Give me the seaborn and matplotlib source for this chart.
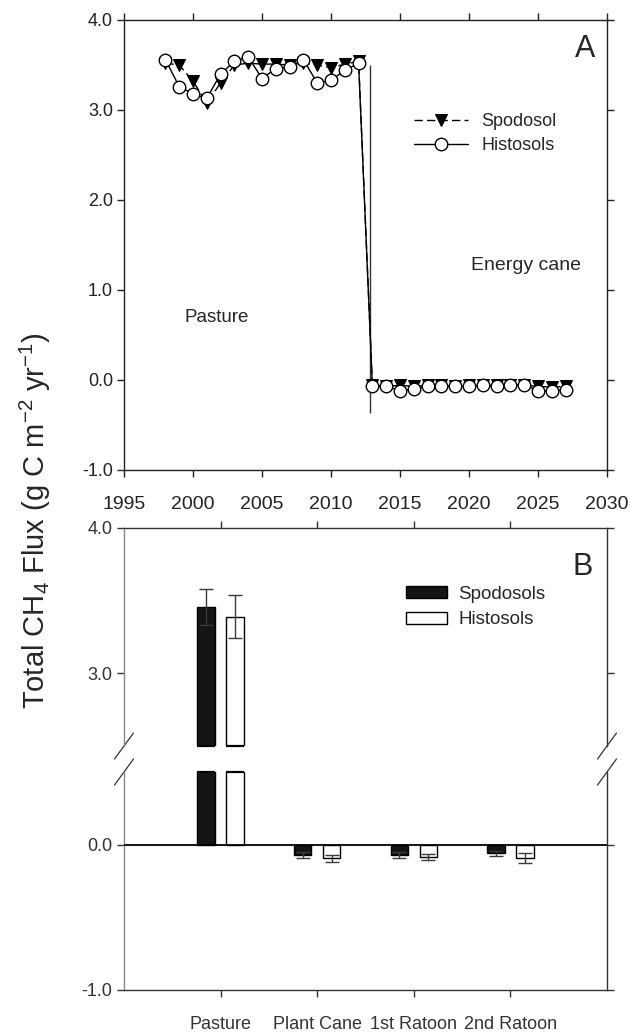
import matplotlib
matplotlib.use("Agg")
import matplotlib.pyplot as plt
import seaborn as sns
import pandas as pd
import numpy as np

# ---------------- data ----------------
years = list(range(1998, 2028))
spodosol_flux = [3.52, 3.50, 3.32, 3.08, 3.30, 3.50, 3.52, 3.51, 3.51, 3.50,
                 3.52, 3.50, 3.47, 3.51, 3.54,
                 -0.06, -0.07, -0.06, -0.07, -0.06, -0.06, -0.07, -0.06, -0.06,
                 -0.06, -0.06, -0.06, -0.07, -0.08, -0.07]
histosol_flux = [3.56, 3.26, 3.18, 3.13, 3.40, 3.54, 3.59, 3.35, 3.46, 3.48,
                 3.56, 3.30, 3.33, 3.44, 3.52,
                 -0.07, -0.07, -0.12, -0.10, -0.07, -0.07, -0.07, -0.07, -0.06,
                 -0.07, -0.06, -0.05, -0.12, -0.12, -0.11]
transition_year = 2012.8
transition_span = (-0.37, 3.50)

stages = ["Pasture", "Plant Cane", "1st Ratoon", "2nd Ratoon"]
spodosol_mean = [3.455, -0.07, -0.07, -0.06]
spodosol_err = [0.125, 0.02, 0.02, 0.015]
histosol_mean = [3.39, -0.095, -0.085, -0.09]
histosol_err = [0.15, 0.025, 0.02, 0.035]

year_ticks = list(range(1995, 2031, 5))
a_yticks = [-1.0, 0.0, 1.0, 2.0, 3.0, 4.0]
b_up_yticks = [3.0, 4.0]
b_lo_yticks = [-1.0, 0.0]

# ---------------- style ----------------
sns.set_style("ticks")
REG = ["Liberation Sans", "DejaVu Sans"]
plt.rcParams["font.family"] = REG
plt.rcParams["mathtext.default"] = "regular"
plt.rcParams["axes.linewidth"] = 1.0

fig = plt.figure(figsize=(6.3, 10.35), dpi=100)
L, R = 124 / 630, 607 / 630
H = 1035.0
axA = fig.add_axes([L, 1 - 470 / H, R - L, 450 / H])
axU = fig.add_axes([L, 1 - 746 / H, R - L, 218 / H])
axD = fig.add_axes([L, 1 - 990 / H, R - L, 218 / H], sharex=axU)

# ---------------- panel A ----------------
dfA = pd.DataFrame({"year": years, "Spodosol": spodosol_flux, "Histosols": histosol_flux})
sns.lineplot(data=dfA, x="year", y="Spodosol", ax=axA, color="black",
             linestyle=(0, (6, 3)), lw=1.0, marker="v", markersize=8.5,
             markerfacecolor="black", markeredgecolor="black", label="Spodosol",
             zorder=3)
sns.lineplot(data=dfA, x="year", y="Histosols", ax=axA, color="black",
             lw=1.0, marker="o", markersize=9, markerfacecolor="white",
             markeredgecolor="black", markeredgewidth=1.0, label="Histosols",
             zorder=4)
axA.vlines(transition_year, transition_span[0], transition_span[1],
           color="#333333", lw=1.0, zorder=2)
axA.set_xlim(1995, 2030)
axA.set_ylim(-1.0, 4.0)
axA.set_xticks(year_ticks)
axA.set_yticks(a_yticks)
axA.set_yticklabels([f"{v:.1f}" for v in a_yticks], fontsize=13)
axA.set_xticklabels([str(y) for y in year_ticks], fontsize=14)
axA.set_xlabel("")
axA.set_ylabel("")
axA.tick_params(direction="out", length=5, width=1, top=True, right=True,
                colors="#222222", pad=3)
axA.tick_params(axis="x", pad=14)
for s in axA.spines.values():
    s.set_visible(True)
    s.set_color("#222222")
legA = axA.legend(loc="upper left", bbox_to_anchor=(0.60, 0.793), frameon=False,
                  prop={"size": 13}, handlelength=3.0,
                  handletextpad=0.75, labelspacing=0.4, borderpad=0, borderaxespad=0)
axA.text(0.955, 0.935, "A", transform=axA.transAxes, ha="center", va="center",
         fontsize=22)
axA.text(2001.7, 0.69, "Pasture", ha="center", va="center", fontsize=13.5)
axA.text(2024.1, 1.27, "Energy cane", ha="center", va="center", fontsize=14)

# ---------------- panel B ----------------
dfB = pd.DataFrame({
    "stage": stages * 2,
    "soil": ["Spodosols"] * 4 + ["Histosols"] * 4,
    "flux": spodosol_mean + histosol_mean,
    "err": spodosol_err + histosol_err,
})
pal = {"Spodosols": "#141414", "Histosols": "white"}
for ax, show_leg in ((axU, True), (axD, False)):
    sns.barplot(data=dfB, x="stage", y="flux", hue="soil", order=stages,
                hue_order=["Spodosols", "Histosols"], palette=pal,
                edgecolor="black", linewidth=1.0, width=0.6, gap=0.4,
                errorbar=None, ax=ax, legend=show_leg, zorder=2)
    errs = [spodosol_err, histosol_err]
    for cont, e in zip(ax.containers, errs):
        xs = [b.get_x() + b.get_width() / 2 for b in cont]
        ys = [b.get_height() for b in cont]
        ax.errorbar(xs, ys, yerr=e, fmt="none", ecolor="#3a3a3a",
                    elinewidth=1.0, capsize=5, capthick=1.0, zorder=3)
    ax.axhline(0, color="black", lw=1.3, zorder=4)
    ax.set_xlabel("")
    ax.set_ylabel("")

axU.set_ylim(2.5, 4.0)
axD.set_ylim(-1.0, 0.5)
axU.set_xlim(-1.0, 4.0)

# close the cut bars at the axis break
for ax, edge in ((axU, axU.get_ylim()[0]), (axD, axD.get_ylim()[1])):
    for cont in ax.containers:
        if not hasattr(cont, "patches"):
            continue
        for b in cont.patches:
            top = b.get_y() + b.get_height()
            lo, hi = min(b.get_y(), top), max(b.get_y(), top)
            if lo < edge < hi or (ax is axU and hi > edge and lo <= edge):
                ax.hlines(edge, b.get_x(), b.get_x() + b.get_width(),
                          color="black", lw=1.6, zorder=5, clip_on=False)

axU.set_yticks(b_up_yticks)
axU.set_yticklabels([f"{v:.1f}" for v in b_up_yticks], fontsize=13)
axD.set_yticks(b_lo_yticks)
axD.set_yticklabels([f"{v:.1f}" for v in b_lo_yticks], fontsize=13)
axD.set_xticks(range(len(stages)))
axD.set_xticklabels(stages, fontsize=13)

axU.spines["bottom"].set_visible(False)
axD.spines["top"].set_visible(False)
for ax in (axU, axD):
    for k in ("left", "right", "top", "bottom"):
        ax.spines[k].set_color("#333333")
    ax.spines["left"].set_color("#888888")
axU.spines["top"].set_visible(True)
axU.spines["right"].set_visible(True)
axD.spines["right"].set_visible(True)
axU.tick_params(axis="x", bottom=False, top=True, labelbottom=False, labeltop=False,
                direction="out", length=5, width=1, colors="#333333")
axU.tick_params(axis="y", left=True, right=True, direction="out", length=5, width=1,
                colors="#333333")
axD.tick_params(axis="x", bottom=True, top=False, direction="out", length=5, width=1,
                colors="#333333", pad=14)
axD.tick_params(axis="y", left=True, right=True, direction="out", length=5, width=1,
                colors="#333333")

# break marks
dx, dy = 9.5 / 483, 13 / 218
for xc in (0, 1):
    axU.plot([xc - dx, xc + dx], [-dy, dy], transform=axU.transAxes, color="#333333",
             lw=0.9, clip_on=False)
    axD.plot([xc - dx, xc + dx], [1 - dy, 1 + dy], transform=axD.transAxes,
             color="#333333", lw=0.9, clip_on=False)

legB = axU.legend(loc="upper left", bbox_to_anchor=(0.584, 0.735), frameon=False,
                  prop={"size": 13.5}, handlelength=2.2,
                  handleheight=0.6, handletextpad=0.6, labelspacing=0.45,
                  borderpad=0, borderaxespad=0, title=None)
axU.text(0.95, 0.82, "B", transform=axU.transAxes, ha="center", va="center",
         fontsize=22)

fig.text(0.056, 0.497, r"Total CH$_4$ Flux (g C m$^{-2}$ yr$^{-1}$)", rotation=90,
         ha="center", va="center", fontsize=21)

fig.savefig("out.png", dpi=100)
